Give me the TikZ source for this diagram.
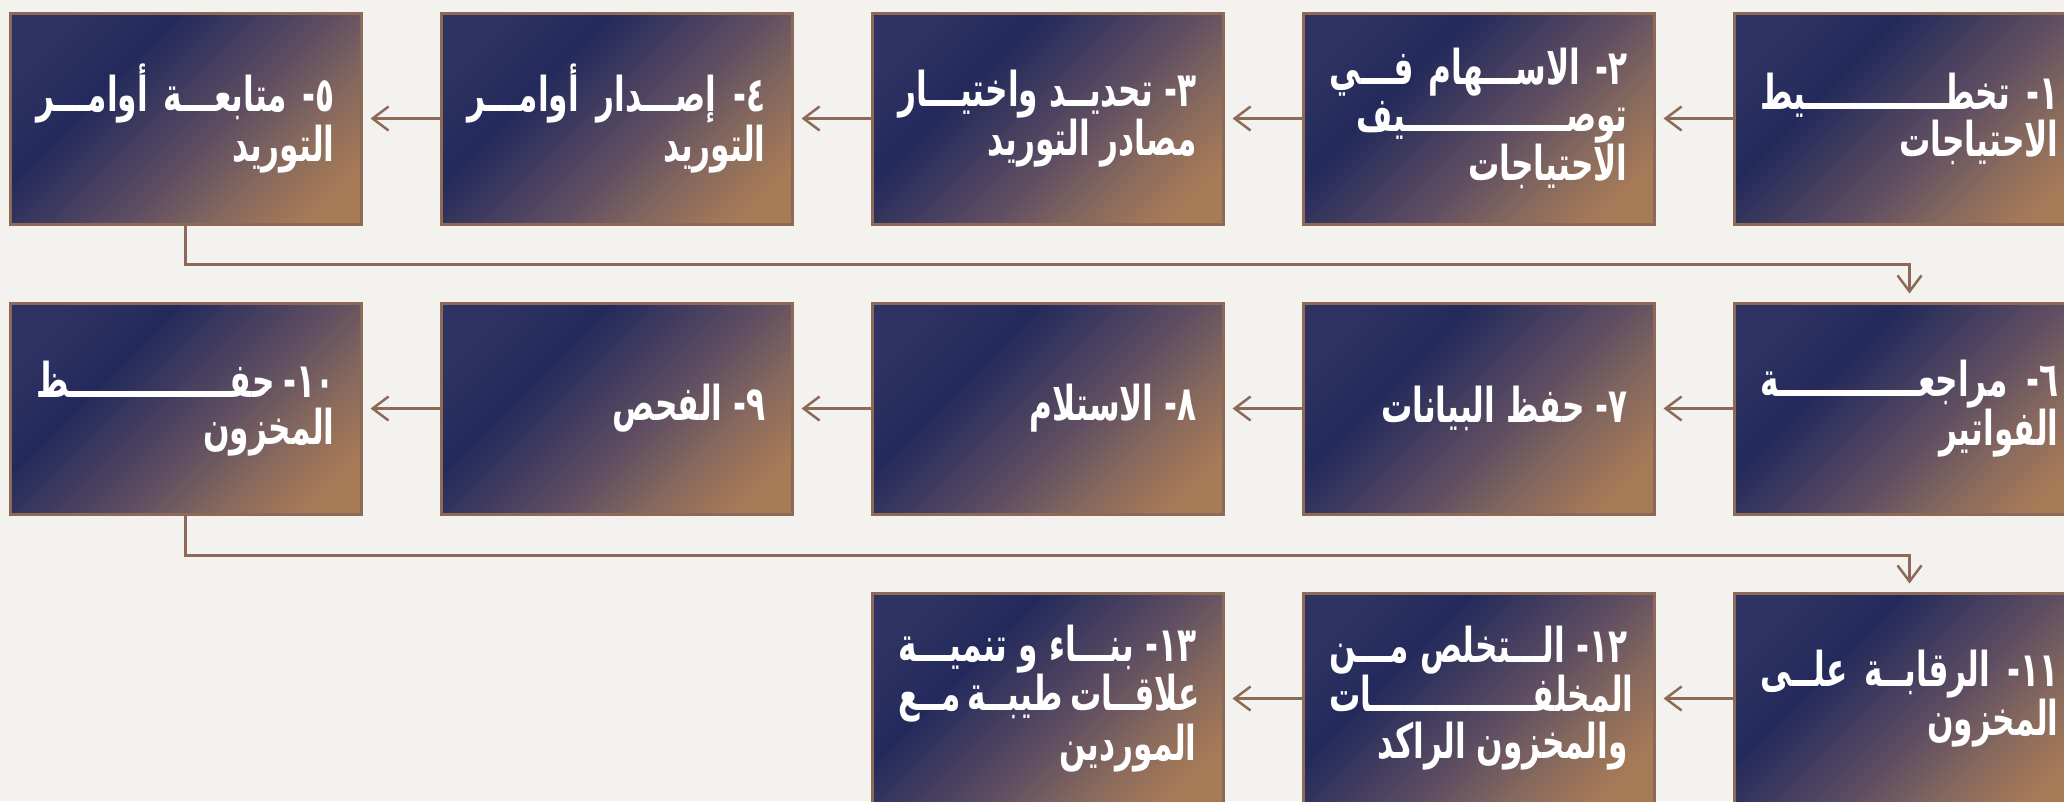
\documentclass[tikz,border=0pt]{standalone}
\usepackage{fontspec}
\usetikzlibrary{arrows.meta}
\TeXXeTstate=1
\newfontfamily\arabicfont[Script=Arabic, FakeStretch=0.65]{DejaVu Sans}
\definecolor{bg}{HTML}{F3F2EF}
\definecolor{gA}{HTML}{2F3363}
\definecolor{gB}{HTML}{232A5B}
\definecolor{gC}{HTML}{5F4E62}
\definecolor{gD}{HTML}{86695E}
\definecolor{gE}{HTML}{A87B57}
\definecolor{edge}{HTML}{8C6A57}
\pgfdeclarehorizontalshading{boxgrad}{100bp}{color(0bp)=(gA); color(21.7bp)=(gA); color(35.9bp)=(gB); color(55.7bp)=(gC); color(67bp)=(gD); color(78.3bp)=(gE); color(100bp)=(gE)}
\newlength\bw \setlength\bw{298pt}
\newcommand{\JL}[1]{\hbox to \bw{\beginR #1\endR}}
\newcommand{\RL}[1]{\hbox to \bw{\hfill\beginR #1\endR}}
\tikzset{
  box/.style={draw=edge, line width=3pt, shade, shading=boxgrad, shading angle=-45,
    minimum width=351pt, minimum height=211pt, inner sep=0pt, text=white,
    font=\arabicfont\bfseries\fontsize{48}{47}\selectfont, align=center},
  conn/.style={draw=edge, line width=2.5pt, -{Straight Barb[length=16pt,width=24pt]}, shorten >=8pt}
}
\begin{document}
\begin{tikzpicture}[x=1pt,y=-1pt]
\useasboundingbox (0,0) rectangle (2064,801);
\fill[bg] (0,0) rectangle (2064,801);
% row 1
\node[box] (b1) at (1909.5,118.5) {\JL{١\kern0pt- تخطـــــــــــــيط}\\\RL{الاحتياجات}};
\node[box] (b2) at (1478.5,118.5) {\JL{٢\kern0pt- الاســـهام فـــي}\\\RL{توصـــــــــــــــيف}\\\RL{الاحتياجات}};
\node[box] (b3) at (1047.5,118.5) {\JL{٣\kern0pt- تحديــد واختيـــار}\\\RL{مصادر التوريد}};
\node[box] (b4) at (616.5,118.5) {\JL{٤\kern0pt- إصـــدار أوامـــر}\\\RL{التوريد}};
\node[box] (b5) at (185.5,118.5) {\JL{٥\kern0pt- متابعـــة أوامـــر}\\\RL{التوريد}};
% row 2
\node[box] (b6) at (1909.5,408.5) {\JL{٦\kern0pt- مراجعـــــــــــــة}\\\RL{الفواتير}};
\node[box] (b7) at (1478.5,408.5) {\RL{٧\kern0pt- حفظ البيانات}};
\node[box] (b8) at (1047.5,408.5) {\RL{٨\kern0pt- الاستلام}};
\node[box] (b9) at (616.5,408.5) {\RL{٩\kern0pt- الفحص}};
\node[box] (b10) at (185.5,408.5) {\JL{١٠\kern0pt- حفـــــــــــــــظ}\\\RL{المخزون}};
% row 3
\node[box] (b11) at (1909.5,698.5) {\JL{١١\kern0pt- الرقابــة علــى}\\\RL{المخزون}};
\node[box] (b12) at (1478.5,698.5) {\JL{١٢\kern0pt- الـــتخلص مـــن}\\\RL{المخلفـــــــــــــــات}\\\RL{والمخزون الراكد}};
\node[box] (b13) at (1047.5,698.5) {\JL{١٣\kern0pt- بنـــاء و تنميـــة}\\\JL{علاقــات طيبــة مــع}\\\RL{الموردين}};
% connectors
\draw[conn] (b1.west) -- (b2.east);
\draw[conn] (b2.west) -- (b3.east);
\draw[conn] (b3.west) -- (b4.east);
\draw[conn] (b4.west) -- (b5.east);
\draw[conn] (b5.south) -- ++(0,39) -| (b6.north);
\draw[conn] (b6.west) -- (b7.east);
\draw[conn] (b7.west) -- (b8.east);
\draw[conn] (b8.west) -- (b9.east);
\draw[conn] (b9.west) -- (b10.east);
\draw[conn] (b10.south) -- ++(0,40) -| (b11.north);
\draw[conn] (b11.west) -- (b12.east);
\draw[conn] (b12.west) -- (b13.east);
\end{tikzpicture}
\end{document}
